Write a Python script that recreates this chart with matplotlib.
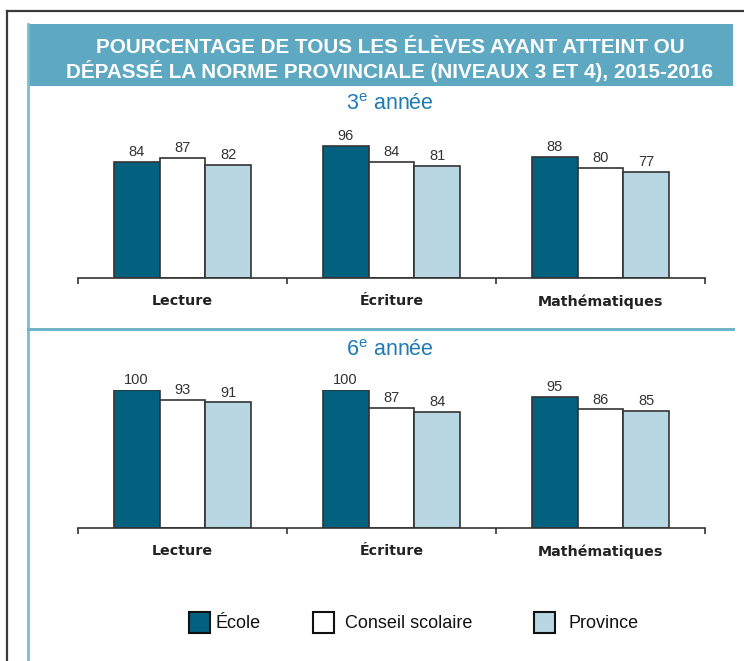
import matplotlib
matplotlib.use("Agg")
import matplotlib.pyplot as plt
from matplotlib.patches import Rectangle
from matplotlib.lines import Line2D
import numpy as np

plt.rcParams['font.family'] = ['Liberation Sans', 'DejaVu Sans']

title = "POURCENTAGE DE TOUS LES ÉLÈVES AYANT ATTEINT OU\nDÉPASSÉ LA NORME PROVINCIALE (NIVEAUX 3 ET 4), 2015-2016"
categories = ["Lecture", "Écriture", "Mathématiques"]
series = ["École", "Conseil scolaire", "Province"]
grade3 = {"École": [84, 96, 88], "Conseil scolaire": [87, 84, 80], "Province": [82, 81, 77]}
grade6 = {"École": [100, 100, 95], "Conseil scolaire": [93, 87, 86], "Province": [91, 84, 85]}
panel_titles = ["3$^{\\mathregular{e}}$ année", "6$^{\\mathregular{e}}$ année"]

colors = {"École": "#02617F", "Conseil scolaire": "#FFFFFF", "Province": "#B9D7E2"}
edge = "#333333"

W, H = 744, 661
fig = plt.figure(figsize=(W / 100, H / 100), dpi=100)

def fx(px):
    return px / W

def fy(py):
    return 1 - py / H

# outer frame
fig.add_artist(Line2D([fx(7), fx(7)], [fy(11), fy(661)], color="#3a3a3a", lw=1.6))
fig.add_artist(Line2D([fx(7), fx(744)], [fy(11), fy(11)], color="#3a3a3a", lw=1.6))
# inner panel left border
fig.add_artist(Line2D([fx(28), fx(28)], [fy(24), fy(661)], color="#79BCCF", lw=2))
# header band
fig.add_artist(Rectangle((fx(28), fy(86)), fx(733) - fx(28), fy(24) - fy(86),
                         transform=fig.transFigure, facecolor="#5EA9C1", edgecolor="none"))
fig.text(fx(390), fy(60), title, ha="center", va="center", color="white",
         fontsize=14.9, fontweight="bold", linespacing=1.15)
# separator
fig.add_artist(Line2D([fx(28), fx(733)], [fy(329), fy(329)], color="#6FB5C8", lw=2.2))

x = np.arange(len(categories))
bw = 0.22
offsets = [-bw, 0, bw]

def draw_panel(baseline_px, data, ptitle, title_y):
    ax = fig.add_axes([fx(78), fy(baseline_px), fx(705) - fx(78), 138 / H])
    for s, off in zip(series, offsets):
        bars = ax.bar(x + off, data[s], width=bw, color=colors[s], edgecolor=edge, linewidth=1.2)
        for b, v in zip(bars, data[s]):
            ax.annotate(str(v), (b.get_x() + b.get_width() / 2, v), xytext=(0, 2),
                        textcoords="offset points", ha="center", va="bottom",
                        fontsize=10.5, color="#333333", annotation_clip=False)
    ax.set_xlim(-0.5, 2.5)
    ax.set_ylim(0, 100)
    for sp in ["top", "right", "left"]:
        ax.spines[sp].set_visible(False)
    ax.spines["bottom"].set_color(edge)
    ax.spines["bottom"].set_linewidth(1.2)
    ax.set_yticks([])
    ax.set_xticks([-0.5, 0.5, 1.5, 2.5])
    ax.set_xticklabels([])
    ax.tick_params(axis="x", direction="out", length=4, width=1.2, color=edge)
    for xi, c in zip(x, categories):
        ax.text(xi, -17, c, ha="center", va="center", fontsize=10.3, fontweight="bold",
                family="DejaVu Sans", color="#222222")
    ax.patch.set_alpha(0)
    fig.text(fx(390), fy(title_y), ptitle, ha="center", va="center", color="#1E7AB4", fontsize=15.5)

draw_panel(278, grade3, panel_titles[0], 104)
draw_panel(528, grade6, panel_titles[1], 351)

# legend
legend_boxes = [(189, 215), (313, 345), (534, 569)]
for s, (bx, tx) in zip(series, legend_boxes):
    fig.add_artist(Rectangle((fx(bx), fy(633)), fx(21), 21 / H, transform=fig.transFigure,
                             facecolor=colors[s], edgecolor="#111111", lw=1.5))
    fig.text(fx(tx), fy(624), s, ha="left", va="center", fontsize=13, color="#111111")

fig.savefig("out.png", dpi=100)
